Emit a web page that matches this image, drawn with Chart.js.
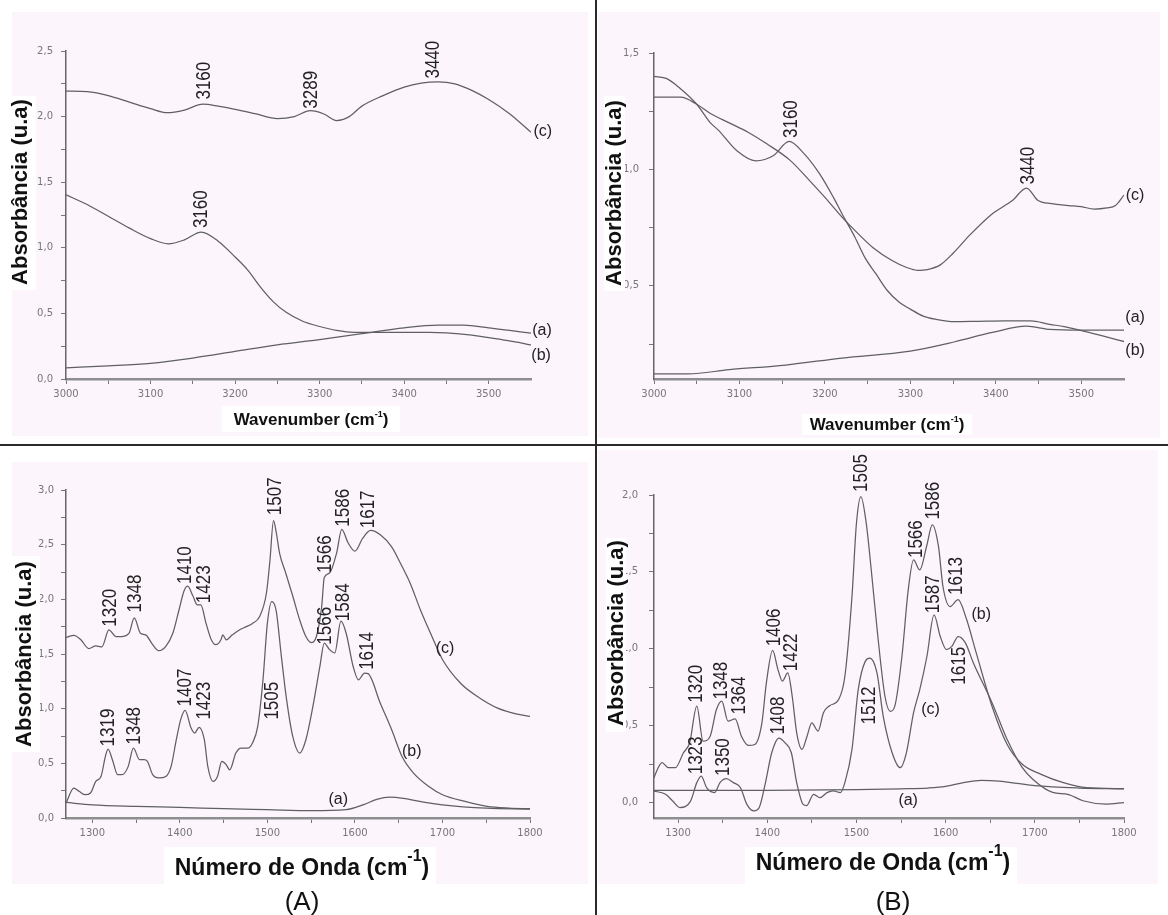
<!doctype html>
<html>
<head>
<meta charset="UTF-8" />
<script src="https://cdn.jsdelivr.net/npm/chart.js"></script>
<style>
  body { margin: 0; background: #fff; }
  #page { position: relative; width: 1168px; height: 915px; overflow: hidden; background: #fff; }
  canvas { position: absolute; }
  .vline { position: absolute; left: 595px; top: 0; width: 2px; height: 915px; background: #2a2a2a; }
  .hline { position: absolute; left: 0; top: 444px; width: 1168px; height: 2px; background: #2a2a2a; }
</style>
</head>
<body>
<div id="page">
  <canvas id="tl" width="594" height="444" style="left:0;top:0"></canvas>
  <canvas id="tr" width="570" height="444" style="left:598px;top:0"></canvas>
  <canvas id="bl" width="594" height="469" style="left:0;top:446px"></canvas>
  <canvas id="br" width="570" height="469" style="left:598px;top:446px"></canvas>
  <div class="vline"></div>
  <div class="hline"></div>
</div>
<script>
// ---- top left: 3000-3550 region, sample set A
const tlWave_c = [3000,3025,3050,3075,3100,3120,3140,3162,3180,3200,3225,3250,3270,3289,3305,3320,3335,3350,3375,3400,3420,3440,3460,3480,3500,3525,3550];
const tlAbs_c  = [2.195,2.19,2.16,2.11,2.06,2.03,2.05,2.095,2.08,2.055,2.02,1.985,2.0,2.045,2.02,1.97,2.0,2.08,2.16,2.225,2.255,2.265,2.25,2.2,2.13,2.02,1.88];
const tlWave_b = [3000,3025,3050,3075,3100,3121,3140,3160,3180,3200,3215,3230,3245,3260,3280,3300,3320,3340,3370,3400,3430,3450,3480,3510,3530,3550];
const tlAbs_b  = [1.404,1.33,1.24,1.15,1.07,1.03,1.06,1.12,1.05,0.93,0.83,0.70,0.59,0.51,0.44,0.40,0.37,0.355,0.355,0.355,0.355,0.352,0.335,0.305,0.285,0.26];
const tlWave_a = [3000,3050,3100,3150,3200,3250,3300,3350,3400,3440,3470,3500,3525,3550];
const tlAbs_a  = [0.085,0.10,0.12,0.16,0.21,0.26,0.30,0.345,0.39,0.41,0.41,0.39,0.37,0.35];
const tlPeakText = ['3160','3289','3440','3160'];
const tlPeakWave = [3164,3291,3435,3160];
const tlPeakAbs  = [2.13,2.06,2.29,1.15];
const tlTagText = ['(c)','(a)','(b)'];
const tlTagWave = [3564,3563,3562];
const tlTagAbs  = [1.886,0.37,0.18];

// ---- top right: 3000-3550 region, sample set B
const trWave_c = [3000,3031,3050,3066,3088,3110,3132,3159,3185,3200,3220,3240,3256,3278,3295,3308,3320,3335,3350,3370,3396,3419,3436,3449,3465,3485,3500,3515,3530,3540,3550];
const trAbs_c  = [1.31,1.31,1.28,1.24,1.20,1.16,1.11,1.04,0.94,0.88,0.795,0.72,0.665,0.61,0.58,0.567,0.57,0.59,0.64,0.72,0.81,0.865,0.92,0.868,0.853,0.845,0.84,0.83,0.835,0.845,0.89];
const trWave_b = [3000,3015,3030,3050,3066,3075,3097,3119,3140,3158,3175,3194,3210,3220,3235,3247,3260,3273,3287,3300,3315,3330,3352,3380,3410,3441,3463,3480,3498,3525,3551];
const trAbs_b  = [1.40,1.39,1.35,1.28,1.20,1.17,1.08,1.037,1.06,1.12,1.07,0.98,0.88,0.81,0.71,0.62,0.55,0.48,0.43,0.40,0.37,0.356,0.346,0.348,0.35,0.35,0.335,0.325,0.31,0.285,0.26];
const trWave_a = [3000,3040,3088,3154,3220,3300,3352,3396,3436,3463,3500,3551];
const trAbs_a  = [0.122,0.122,0.14,0.16,0.19,0.22,0.26,0.30,0.327,0.313,0.31,0.31];
const trPeakText = ['3160','3440'];
const trPeakWave = [3161,3438];
const trPeakAbs  = [1.135,0.935];
const trTagText = ['(c)','(a)','(b)'];
const trTagWave = [3563,3563,3563];
const trTagAbs  = [0.888,0.363,0.22];

// ---- bottom left (A): 1270-1800 region
const blWave_c = [1270,1279,1287,1296,1304,1311,1319,1327,1334,1342,1348,1355,1361,1369,1376,1384,1392,1399,1405,1409,1415,1420,1424,1430,1436,1441,1447,1449,1453,1460,1468,1476,1483,1491,1499,1503,1507,1510,1514,1521,1529,1537,1544,1550,1556,1562,1565,1571,1579,1585,1592,1600,1609,1618,1629,1642,1652,1663,1675,1688,1700,1721,1742,1763,1784,1800];
const blAbs_c  = [1.65,1.67,1.63,1.55,1.575,1.565,1.72,1.66,1.66,1.69,1.83,1.69,1.675,1.585,1.53,1.57,1.69,1.90,2.08,2.12,2.03,1.95,1.95,1.78,1.63,1.585,1.63,1.675,1.63,1.675,1.72,1.75,1.78,1.84,2.06,2.36,2.72,2.62,2.42,2.24,2.03,1.81,1.66,1.605,1.66,1.93,2.2,2.24,2.42,2.64,2.52,2.44,2.56,2.63,2.59,2.48,2.33,2.15,1.90,1.66,1.45,1.23,1.10,1.005,0.953,0.93];
const blWave_b = [1270,1279,1285,1292,1298,1304,1310,1315,1318,1323,1329,1334,1341,1347,1354,1359,1363,1369,1376,1384,1390,1396,1401,1406,1413,1417,1422,1428,1432,1438,1443,1448,1453,1457,1464,1470,1478,1483,1489,1495,1500,1505,1510,1516,1522,1529,1537,1544,1552,1560,1565,1571,1577,1584,1590,1598,1604,1611,1615,1629,1642,1654,1667,1684,1700,1726,1751,1776,1800];
const blAbs_b  = [0.137,0.274,0.244,0.213,0.229,0.335,0.38,0.564,0.63,0.533,0.396,0.396,0.47,0.64,0.533,0.533,0.518,0.396,0.366,0.38,0.47,0.716,0.90,0.984,0.82,0.777,0.83,0.716,0.47,0.335,0.38,0.518,0.487,0.44,0.594,0.64,0.64,0.686,0.838,1.264,1.78,1.98,1.90,1.478,1.08,0.746,0.594,0.716,1.02,1.386,1.60,1.54,1.51,1.80,1.69,1.386,1.264,1.325,1.32,1.05,0.807,0.56,0.41,0.29,0.213,0.152,0.107,0.091,0.085];
const blWave_a = [1270,1300,1350,1400,1450,1500,1550,1590,1610,1625,1640,1655,1680,1700,1750,1800];
const blAbs_a  = [0.143,0.12,0.106,0.097,0.085,0.076,0.067,0.076,0.122,0.17,0.19,0.18,0.143,0.12,0.09,0.082];
const blPeakText = ['1320','1348','1410','1423','1507','1566','1586','1617','1319','1348','1407','1423','1505','1566','1584','1614'];
const blPeakWave = [1321,1349,1407,1428,1509,1566,1587,1616,1319,1348,1407,1428,1506,1566,1587,1614];
const blPeakAbs  = [1.75,1.88,2.14,1.965,2.77,2.24,2.665,2.65,0.655,0.67,1.02,0.90,0.90,1.585,1.80,1.355];
const blTagText = ['(c)','(b)','(a)'];
const blTagWave = [1703,1665,1581];
const blTagAbs  = [1.55,0.61,0.168];

// ---- bottom right (B): 1273-1800 region
const brWave_b = [1272,1282,1289,1297,1306,1313,1321,1328,1336,1343,1349,1356,1364,1371,1379,1386,1394,1399,1406,1412,1417,1423,1428,1433,1439,1444,1450,1457,1463,1470,1480,1487,1495,1500,1505,1511,1517,1524,1532,1538,1543,1551,1558,1564,1571,1579,1585,1592,1597,1605,1614,1623,1634,1652,1669,1686,1707,1732,1758,1800];
const brAbs_b  = [0.151,0.26,0.227,0.227,0.324,0.389,0.627,0.40,0.432,0.605,0.66,0.53,0.545,0.432,0.372,0.378,0.519,0.778,0.99,0.865,0.79,0.843,0.69,0.454,0.346,0.42,0.519,0.465,0.584,0.63,0.67,0.82,1.34,1.816,1.99,1.816,1.49,1.08,0.69,0.594,0.627,0.95,1.38,1.578,1.513,1.675,1.805,1.664,1.405,1.275,1.32,1.20,0.98,0.627,0.378,0.249,0.184,0.13,0.097,0.091];
const brWave_c = [1272,1286,1294,1302,1314,1321,1326,1332,1341,1347,1354,1362,1370,1377,1385,1391,1398,1405,1413,1420,1427,1433,1440,1444,1452,1459,1467,1474,1482,1487,1495,1502,1510,1515,1523,1530,1540,1549,1556,1564,1571,1579,1587,1594,1601,1607,1614,1622,1631,1652,1669,1686,1698,1720,1737,1754,1780,1800];
const brAbs_c  = [0.076,0.054,0.01,-0.032,0.01,0.13,0.173,0.097,0.065,0.13,0.156,0.13,0.097,-0.01,-0.054,-0.032,0.13,0.324,0.42,0.389,0.324,0.13,-0.01,-0.02,0.054,0.032,0.065,0.076,0.065,0.13,0.346,0.735,0.92,0.94,0.843,0.562,0.324,0.227,0.324,0.584,0.735,0.95,1.22,1.08,0.995,1.016,1.08,1.04,0.91,0.65,0.41,0.227,0.15,0.066,0.054,0.012,-0.01,0.0];
const brWave_a = [1273,1400,1500,1550,1580,1600,1620,1640,1660,1680,1700,1750,1800];
const brAbs_a  = [0.08,0.08,0.085,0.09,0.095,0.105,0.13,0.145,0.14,0.125,0.11,0.095,0.09];
const brPeakText = ['1505','1566','1586','1613','1320','1348','1364','1406','1422','1587','1615','1323','1350','1408','1512'];
const brPeakWave = [1506,1567,1587,1612,1321,1349,1369,1408,1427,1586,1616,1321,1351,1413,1515];
const brPeakAbs  = [2.02,1.59,1.84,1.35,0.65,0.67,0.573,1.016,0.854,1.232,0.767,0.184,0.173,0.443,0.508];
const brTagText = ['(b)','(c)','(a)'];
const brTagWave = [1640,1583,1558];
const brTagAbs  = [1.22,0.605,0.01];

// axis ticks
const topXTicks = [3000,3050,3100,3150,3200,3250,3300,3350,3400,3450,3500];
const botXTicks = [1300,1350,1400,1450,1500,1550,1600,1650,1700,1750,1800];
const tlYTicks = [0,0.25,0.5,0.75,1,1.25,1.5,1.75,2,2.25,2.5];
const trYTicks = [0.25,0.5,0.75,1,1.25,1.5];
const blYTicks = [0,0.25,0.5,0.75,1,1.25,1.5,1.75,2,2.25,2.5,2.75,3];
const brYTicks = [0,0.25,0.5,0.75,1,1.25,1.5,1.75,2];

const yTitle = 'Absorbância (u.a)';
const FONT = '"Liberation Sans", Arial, sans-serif';

function series(xs, ys) {
  return {
    data: xs.map((x, i) => ({ x: x, y: ys[i] })),
    borderColor: '#606060',
    borderWidth: 1.25,
    pointRadius: 0,
    cubicInterpolationMode: 'monotone',
    fill: false
  };
}

function drawXTitle(ctx, t) {
  ctx.font = t.font; const w1 = ctx.measureText(t.main).width;
  ctx.font = t.supFont; const w2 = ctx.measureText(t.sup).width;
  ctx.font = t.font; const w3 = ctx.measureText(')').width;
  let x = t.cx - (w1 + w2 + w3) / 2;
  ctx.textAlign = 'left';
  ctx.textBaseline = 'alphabetic';
  ctx.fillText(t.main, x, t.base); x += w1;
  ctx.font = t.supFont; ctx.fillText(t.sup, x, t.base - t.rise); x += w2;
  ctx.font = t.font; ctx.fillText(')', x, t.base);
}

// background, titles and the peak / curve labels
const panelPlugin = {
  id: 'panel',
  beforeDraw(chart, args, o) {
    const ctx = chart.ctx;
    ctx.save();
    ctx.fillStyle = '#fff';
    ctx.fillRect(0, 0, chart.width, chart.height);
    ctx.fillStyle = '#fcf5fc';
    ctx.fillRect(o.bg[0], o.bg[1], o.bg[2], o.bg[3]);
    ctx.restore();
  },
  afterDraw(chart, args, o) {
    const ctx = chart.ctx, sx = chart.scales.x, sy = chart.scales.y;
    ctx.save();
    ctx.fillStyle = '#222';
    ctx.font = '17px ' + FONT;
    ctx.textAlign = 'left';
    ctx.textBaseline = 'middle';
    o.peakText.forEach((t, i) => {
      ctx.save();
      ctx.translate(sx.getPixelForValue(o.peakX[i]), sy.getPixelForValue(o.peakY[i]));
      ctx.scale(1.15, 1);
      ctx.rotate(-Math.PI / 2);
      ctx.fillText(t, 0, 0);
      ctx.restore();
    });
    ctx.font = '16px ' + FONT;
    ctx.textAlign = 'center';
    o.tagText.forEach((t, i) => {
      ctx.fillText(t, sx.getPixelForValue(o.tagX[i]), sy.getPixelForValue(o.tagY[i]));
    });

    // y title on a white box
    const yt = o.yTitle;
    ctx.fillStyle = '#fff';
    ctx.fillRect(yt.box[0], yt.box[1], yt.box[2], yt.box[3]);
    ctx.fillStyle = '#111';
    ctx.save();
    ctx.translate(yt.cx, yt.cy);
    ctx.rotate(-Math.PI / 2);
    ctx.font = 'bold 22px ' + FONT;
    ctx.textAlign = 'center';
    ctx.textBaseline = 'middle';
    ctx.fillText(yTitle, 0, 0);
    ctx.restore();

    // x title on a white box
    const xt = o.xTitle;
    ctx.fillStyle = '#fff';
    ctx.fillRect(xt.box[0], xt.box[1], xt.box[2], xt.box[3]);
    ctx.fillStyle = '#111';
    drawXTitle(ctx, xt);

    if (o.letter) {
      ctx.font = '26px ' + FONT;
      ctx.textAlign = 'center';
      ctx.textBaseline = 'middle';
      ctx.fillText(o.letter[0], o.letter[1], o.letter[2]);
    }
    ctx.restore();
  }
};

function makePanel(id, p) {
  const fmtY = v => (Math.abs(v * 2 - Math.round(v * 2)) < 1e-6) ? v.toFixed(1).replace('.', ',') : '';
  const fmtX = v => (v % 100 === 0) ? String(v) : '';
  const tickFont = { family: '"DejaVu Sans", sans-serif', size: 10 };
  return new Chart(document.getElementById(id), {
    type: 'line',
    data: { datasets: p.datasets },
    options: {
      responsive: false,
      animation: false,
      events: [],
      layout: { padding: { top: p.top, right: p.right, bottom: 0, left: 0 } },
      plugins: { legend: { display: false }, tooltip: { enabled: false }, panel: p.panel },
      scales: {
        x: {
          type: 'linear', min: p.xMin, max: p.xMax,
          afterBuildTicks: s => { s.ticks = p.xTicks.map(v => ({ value: v })); },
          afterFit: s => { s.height = p.xH; },
          grid: { drawOnChartArea: false, drawTicks: true, tickLength: 5, tickColor: '#777' },
          border: { color: '#8e8e8e', width: 2.5, dash: [3, 1] },
          ticks: { autoSkip: false, maxRotation: 0, minRotation: 0, padding: 4, color: '#777', font: tickFont, callback: fmtX }
        },
        y: {
          type: 'linear', min: p.yMin, max: p.yMax,
          afterBuildTicks: s => { s.ticks = p.yTicks.map(v => ({ value: v })); },
          afterFit: s => { s.width = p.yW; },
          grid: { drawOnChartArea: false, drawTicks: true, tickLength: 5, tickColor: '#777' },
          border: { color: '#666', width: 1.5 },
          ticks: { autoSkip: false, padding: p.yPad, color: '#777', font: tickFont, callback: fmtY }
        }
      }
    },
    plugins: [panelPlugin]
  });
}

const topTitle = { main: 'Wavenumber (cm', sup: '-1', font: 'bold 17px ' + FONT, supFont: 'bold 9px ' + FONT, rise: 8 };
const botTitle = { main: 'Número de Onda (cm', sup: '-1', font: 'bold 23px ' + FONT, supFont: 'bold 16px ' + FONT, rise: 14 };

makePanel('tl', {
  datasets: [series(tlWave_c, tlAbs_c), series(tlWave_b, tlAbs_b), series(tlWave_a, tlAbs_a)],
  xMin: 3000, xMax: 3550, yMin: 0, yMax: 2.5, xTicks: topXTicks, yTicks: tlYTicks,
  top: 51, right: 63, xH: 65, yW: 66, yPad: 8,
  panel: {
    bg: [12, 12, 576, 424],
    peakText: tlPeakText, peakX: tlPeakWave, peakY: tlPeakAbs,
    tagText: tlTagText, tagX: tlTagWave, tagY: tlTagAbs,
    yTitle: { cx: 21, cy: 192, box: [6, 96, 30, 194] },
    xTitle: Object.assign({ cx: 311, base: 425, box: [222, 406, 178, 26] }, topTitle)
  }
});

makePanel('tr', {
  datasets: [series(trWave_c, trAbs_c), series(trWave_b, trAbs_b), series(trWave_a, trAbs_a)],
  xMin: 3000, xMax: 3550, yMin: 0.1, yMax: 1.5, xTicks: topXTicks, yTicks: trYTicks,
  top: 53, right: 44, xH: 65, yW: 56, yPad: 10,
  panel: {
    bg: [0, 12, 562, 426],
    peakText: trPeakText, peakX: trPeakWave, peakY: trPeakAbs,
    tagText: trTagText, tagX: trTagWave, tagY: trTagAbs,
    yTitle: { cx: 17, cy: 193, box: [6, 96, 21, 195] },
    xTitle: Object.assign({ cx: 289, base: 430, box: [204, 414, 170, 21] }, topTitle)
  }
});

makePanel('bl', {
  datasets: [series(blWave_c, blAbs_c), series(blWave_b, blAbs_b), series(blWave_a, blAbs_a)],
  xMin: 1270, xMax: 1800, yMin: 0, yMax: 3, xTicks: botXTicks, yTicks: blYTicks,
  top: 44, right: 64, xH: 97, yW: 66, yPad: 7,
  panel: {
    bg: [12, 16, 576, 422],
    peakText: blPeakText, peakX: blPeakWave, peakY: blPeakAbs,
    tagText: blTagText, tagX: blTagWave, tagY: blTagAbs,
    yTitle: { cx: 25, cy: 208, box: [10, 110, 30, 196] },
    xTitle: Object.assign({ cx: 302, base: 429, box: [164, 401, 272, 37] }, botTitle),
    letter: ['(A)', 302, 457]
  }
});

makePanel('br', {
  datasets: [series(brWave_b, brAbs_b), series(brWave_c, brAbs_c), series(brWave_a, brAbs_a)],
  xMin: 1273, xMax: 1800, yMin: -0.1, yMax: 2, xTicks: botXTicks, yTicks: brYTicks,
  top: 49, right: 44, xH: 97, yW: 56, yPad: 11,
  panel: {
    bg: [0, 4, 560, 434],
    peakText: brPeakText, peakX: brPeakWave, peakY: brPeakAbs,
    tagText: brTagText, tagX: brTagWave, tagY: brTagAbs,
    yTitle: { cx: 19, cy: 187, box: [8, 92, 20, 194] },
    xTitle: Object.assign({ cx: 285, base: 424, box: [147, 401, 272, 37] }, botTitle),
    letter: ['(B)', 295, 457]
  }
});
</script>
</body>
</html>
